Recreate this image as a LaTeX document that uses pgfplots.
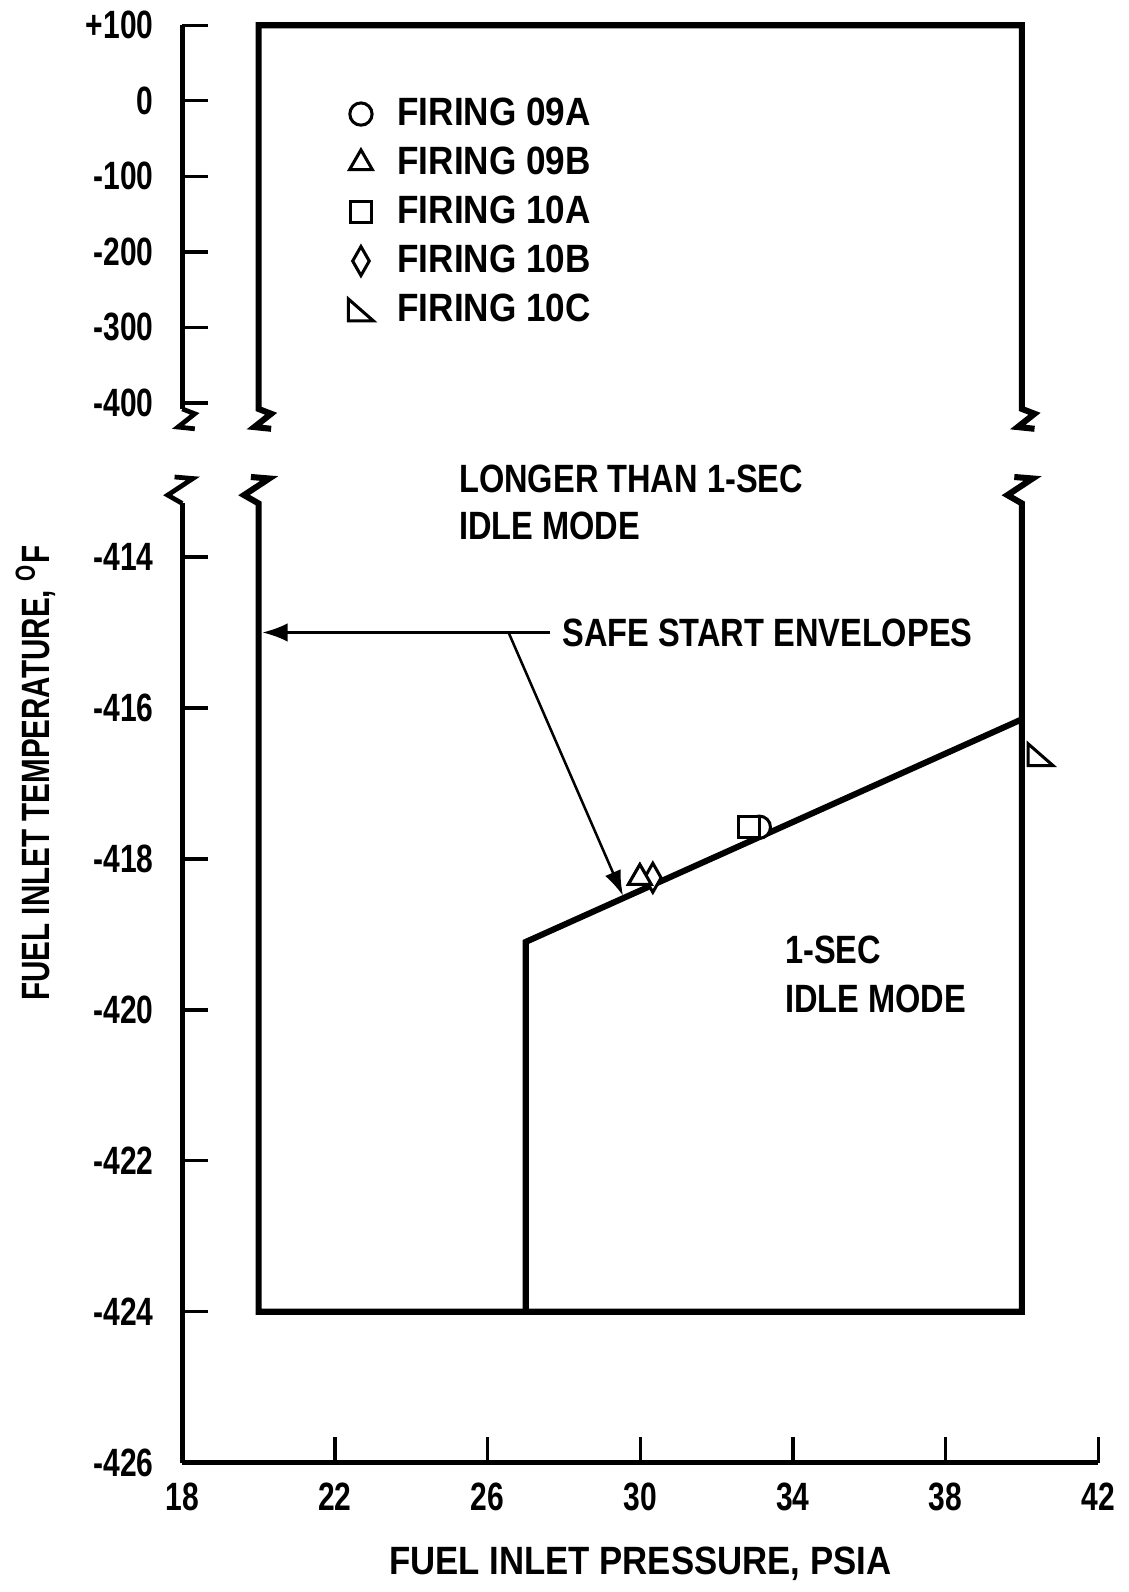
\documentclass[border=0pt]{standalone}
\usepackage{fontspec}
\setmainfont{Liberation Sans}[FakeStretch=0.825]
\newfontfamily\tickf{Liberation Sans}[FakeStretch=0.76]
\newfontfamily\legf{Liberation Sans}[FakeStretch=0.89]
\newfontfamily\xlabf{Liberation Sans}[FakeStretch=0.88]
\newfontfamily\ylabf{Liberation Sans}[FakeStretch=0.75]
\usepackage{pgfplots}
\pgfplotsset{compat=1.18}
\usetikzlibrary{arrows.meta}
\pgfdeclareplotmark{rtri}{%
  \pgfpathmoveto{\pgfqpoint{-\pgfplotmarksize}{0.875\pgfplotmarksize}}%
  \pgfpathlineto{\pgfqpoint{-\pgfplotmarksize}{-0.875\pgfplotmarksize}}%
  \pgfpathlineto{\pgfqpoint{\pgfplotmarksize}{-0.875\pgfplotmarksize}}%
  \pgfpathclose\pgfusepathqfillstroke}
\pgfdeclareplotmark{ndiamond}{%
  \pgfpathmoveto{\pgfqpoint{0pt}{\pgfplotmarksize}}%
  \pgfpathlineto{\pgfqpoint{0.57\pgfplotmarksize}{0pt}}%
  \pgfpathlineto{\pgfqpoint{0pt}{-\pgfplotmarksize}}%
  \pgfpathlineto{\pgfqpoint{-0.57\pgfplotmarksize}{0pt}}%
  \pgfpathclose\pgfusepathqfillstroke}
\newcommand{\txt}{\bfseries\fontsize{11.7}{14}\selectfont}
\begin{document}
\begin{tikzpicture}
\path (-54pt,-36.9pt) rectangle (280.5pt,433.5pt);
% ---------------- lower axis ----------------
\begin{axis}[at={(0,0)}, anchor=south west, scale only axis,
  width=271.5pt, height=284.3pt,
  xmin=18, xmax=42, ymin=-426, ymax=-413.29,
  axis x line=bottom, axis y line=left,
  axis line style={-, line width=1.4pt},
  xtick={18,22,26,30,34,38,42},
  xticklabels={18,22,26,30,34,38,42},
  ytick={-426,-424,-422,-420,-418,-416,-414},
  yticklabels={-426,-424,-422,-420,-418,-416,-414},
  tick align=inside, major tick length=7.5pt,
  tick style={line width=1pt, black},
  xticklabel style={font=\tickf\txt, yshift=-2.4pt},
  yticklabel style={font=\tickf\txt, xshift=-5pt},
  xlabel={FUEL INLET PRESSURE, PSIA},
  xlabel style={at={(axis description cs:0.5,0)}, anchor=center, yshift=-30pt, font=\xlabf\txt},
  ylabel={FUEL INLET TEMPERATURE, \textsuperscript{O}F},
  ylabel style={at={(axis description cs:-0.160,0.7187)}, anchor=center, font=\ylabf\txt},
  clip=false,
  legend image code/.code={\path[draw=none, fill=none] (-3.8pt,-4.2pt) rectangle (3.8pt,4.2pt);
     \draw[#1] plot coordinates {(0pt,0pt)};},
  legend style={at={(axis description cs:0.1804,1.4236)}, anchor=north west,
     draw=none, fill=none, inner sep=0pt, row sep=4.85pt, column sep=7pt,
     nodes={inner sep=0pt}, font=\legf\txt},
  legend cell align=left,
]
% break mark on the y axis
\addplot[line width=1.4pt, forget plot] coordinates {(18,-413.29) (17.62,-413.18) (18.28,-412.96) (17.80,-412.94)};
% longer than 1-sec envelope
\addplot[line width=1.8pt, forget plot] coordinates {(19.80,-412.94) (20.28,-412.96) (19.62,-413.18) (20,-413.29)
  (20,-424) (40,-424) (40,-413.29) (39.62,-413.18) (40.28,-412.96) (39.80,-412.94)};
% 1-sec envelope
\addplot[line width=1.8pt, forget plot] coordinates {(27,-424) (27,-419.1) (40,-416.15)};
% arrows
\addplot[line width=0.75pt, forget plot, -{Latex[length=7.5pt,width=5.5pt]}] coordinates {(27.63,-415) (20.1,-415)};
\addplot[line width=0.75pt, forget plot, -{Latex[length=7.5pt,width=5pt]}] coordinates {(26.55,-415) (29.55,-418.49)};
% firings
\addplot[only marks, mark=*, mark size=3.3pt, mark options={line width=0.9pt, fill=white, draw=black}] coordinates {(33.12,-417.58)};
\addlegendentry{FIRING 09A}
\addplot[only marks, mark=triangle*, mark size=3.9pt, mark options={line width=0.9pt, fill=white, draw=black}] coordinates {(29.99,-418.25)};
\addlegendentry{FIRING 09B}
\addplot[only marks, mark=square*, mark size=3.1pt, mark options={line width=0.9pt, fill=white, draw=black}] coordinates {(32.85,-417.58)};
\addlegendentry{FIRING 10A}
\addplot[only marks, mark=ndiamond, mark size=4.3pt, mark options={line width=0.9pt, fill=white, draw=black}] coordinates {(30.33,-418.25)};
\addlegendentry{FIRING 10B}
\addplot[only marks, mark=rtri, mark size=3.7pt, mark options={line width=0.9pt, fill=white, draw=black}] coordinates {(40.49,-416.62)};
\addlegendentry{FIRING 10C}
\addplot[only marks, forget plot, mark=triangle*, mark size=3.9pt, mark options={line width=0.9pt, fill=white, draw=black}] coordinates {(29.99,-418.25)};
% region texts
\node[anchor=west, inner sep=0pt, font=\txt] at (axis cs:25.24,-412.96) {LONGER THAN 1-SEC};
\node[anchor=west, inner sep=0pt, font=\txt] at (axis cs:25.24,-413.59) {IDLE MODE};
\node[anchor=west, inner sep=0pt, font=\txt] at (axis cs:27.94,-415.0) {SAFE START ENVELOPES};
\node[anchor=west, inner sep=0pt, font=\txt] at (axis cs:33.78,-419.2) {1-SEC};
\node[anchor=west, inner sep=0pt, font=\txt] at (axis cs:33.78,-419.86) {IDLE MODE};
\end{axis}
% ---------------- upper axis ----------------
\begin{axis}[at={(0,312.3pt)}, anchor=south west, scale only axis,
  width=271.5pt, height=113.7pt,
  xmin=18, xmax=42, ymin=-408, ymax=100,
  axis x line=none, axis y line=left,
  axis line style={-, line width=1.4pt},
  ytick={-400,-300,-200,-100,0,100},
  yticklabels={-400,-300,-200,-100,0,+100},
  tick align=inside, major tick length=7.5pt,
  tick style={line width=1pt, black},
  yticklabel style={font=\tickf\txt, xshift=-5pt},
  clip=false,
]
\addplot[line width=1.4pt] coordinates {(18,-408) (18.33,-414.4) (17.89,-432) (18.33,-434.3)};
\addplot[line width=1.8pt] coordinates {(20.33,-434.3) (19.89,-432) (20.33,-414.4) (20,-408)
  (20,100) (40,100) (40,-408) (40.33,-414.4) (39.89,-432) (40.33,-434.3)};
\end{axis}
\end{tikzpicture}
\end{document}
